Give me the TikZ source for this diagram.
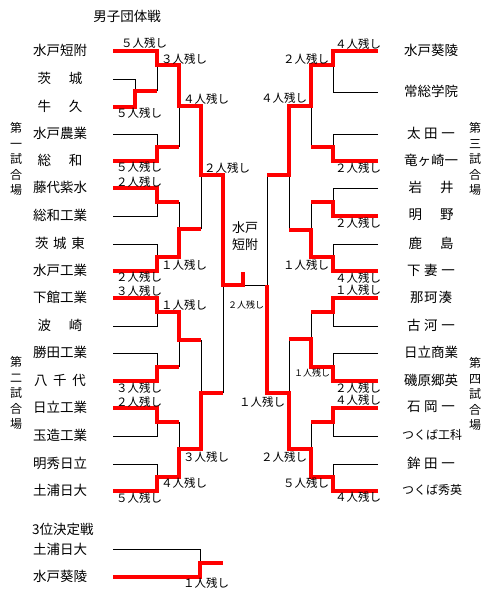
\documentclass[tikz,border=0pt]{standalone}
\usepackage{fontspec}
\setmainfont{Noto Sans CJK JP}
\newcommand{\spreadname}[2]{\makebox[#1][s]{#2}}
\tikzset{
  win/.style={draw=red, line width=3.8pt, line join=miter},
  lose/.style={draw=black, line width=0.9pt},
  team/.style={font=\fontsize{13.5}{14}\selectfont, inner sep=0pt},
  score/.style={font=\fontsize{11.5}{12}\selectfont, inner sep=0pt},
  smallscore/.style={font=\fontsize{9}{10}\selectfont, inner sep=0pt},
  venue/.style={font=\fontsize{12}{15.5}\selectfont, align=center, inner sep=0pt},
}
\begin{document}
\begin{tikzpicture}[x=1pt,y=-1pt]
\useasboundingbox (0,0) rectangle (500,605);
\fill[white] (0,0) rectangle (500,605);

% title
\node[team] (title) at (127,16) {男子団体戦};

% left teams
\node[team] (L1) at (60,50) {水戸短附};
\node[team] (L2) at (60,78) {\spreadname{45pt}{茨\hfil 城}};
\node[team] (L3) at (60,106) {\spreadname{45pt}{牛\hfil 久}};
\node[team] (L4) at (60,133) {水戸農業};
\node[team] (L5) at (60,160) {\spreadname{45pt}{総\hfil 和}};
\node[team] (L6) at (60,187) {藤代紫水};
\node[team] (L7) at (60,215) {総和工業};
\node[team] (L8) at (60,243) {\spreadname{50pt}{茨\hfil 城\hfil 東}};
\node[team] (L9) at (60,270) {水戸工業};
\node[team] (L10) at (60,297) {下館工業};
\node[team] (L11) at (60,325) {\spreadname{45pt}{波\hfil 崎}};
\node[team] (L12) at (60,352) {勝田工業};
\node[team] (L13) at (60,380) {\spreadname{52pt}{八\hfil 千\hfil 代}};
\node[team] (L14) at (60,407) {日立工業};
\node[team] (L15) at (60,435) {玉造工業};
\node[team] (L16) at (60,463) {明秀日立};
\node[team] (L17) at (60,490) {土浦日大};

% right teams
\node[team] (R1) at (431,50) {水戸葵陵};
\node[team] (R2) at (431,91) {常総学院};
\node[team] (R3) at (431,133) {\spreadname{48pt}{太\hfil 田\hfil 一}};
\node[team] (R4) at (431,160) {竜ヶ崎一};
\node[team] (R5) at (431,187) {\spreadname{45pt}{岩\hfil 井}};
\node[team] (R6) at (431,215) {\spreadname{45pt}{明\hfil 野}};
\node[team] (R7) at (431,243) {\spreadname{45pt}{鹿\hfil 島}};
\node[team] (R8) at (431,270) {\spreadname{48pt}{下\hfil 妻\hfil 一}};
\node[team] (R9) at (431,297) {\spreadname{42pt}{那\hfil 珂\hfil 湊}};
\node[team] (R10) at (431,325) {\spreadname{48pt}{古\hfil 河\hfil 一}};
\node[team] (R11) at (431,352) {日立商業};
\node[team] (R12) at (431,380) {磯原郷英};
\node[team] (R13) at (431,407) {\spreadname{48pt}{石\hfil 岡\hfil 一}};
\node[team, font=\fontsize{12}{13}\selectfont] (R14) at (432,435) {つくば工科};
\node[team] (R15) at (431,463) {\spreadname{48pt}{鉾\hfil 田\hfil 一}};
\node[team, font=\fontsize{12}{13}\selectfont] (R16) at (432,490) {つくば秀英};

% venues
\node[venue] (v1) at (16,159) {第\\一\\試\\合\\場};
\node[venue] (v2) at (16,393) {第\\二\\試\\合\\場};
\node[venue] (v3) at (475,159) {第\\三\\試\\合\\場};
\node[venue] (v4) at (475,394) {第\\四\\試\\合\\場};

% champion
\node[font=\fontsize{13}{17}\selectfont, align=center, inner sep=0pt] (champ) at (245,236) {水戸\\短附};

% ---- losing (black) lines
\draw[lose] (113,79)--(135,79)--(135,91);
\draw[lose] (157,91)--(157,65);
\draw[lose] (113,134)--(157,134)--(157,147);
\draw[lose] (179,147)--(179,106);
\draw[lose] (113,216)--(157,216)--(157,202);
\draw[lose] (179,202)--(179,229);
\draw[lose] (113,244)--(157,244)--(157,257);
\draw[lose] (201,229)--(201,175);
\draw[lose] (113,326)--(157,326)--(157,312);
\draw[lose] (201,340)--(201,393);
\draw[lose] (113,353)--(157,353)--(157,367);
\draw[lose] (179,367)--(179,340);
\draw[lose] (113,436)--(157,436)--(157,422);
\draw[lose] (179,422)--(179,449);
\draw[lose] (113,464)--(157,464)--(157,477);
\draw[lose] (223,393)--(223,285);
\draw[lose] (243,285)--(267,285);
\draw[lose] (378,92)--(333,92)--(333,65);
\draw[lose] (378,134)--(333,134)--(333,147);
\draw[lose] (311,147)--(311,106);
\draw[lose] (378,188)--(333,188)--(333,202);
\draw[lose] (311,202)--(311,230);
\draw[lose] (378,244)--(333,244)--(333,257);
\draw[lose] (289,230)--(289,175);
\draw[lose] (267,175)--(267,285);
\draw[lose] (311,312)--(311,339);
\draw[lose] (378,326)--(333,326)--(333,312);
\draw[lose] (378,353)--(333,353)--(333,367);
\draw[lose] (289,339)--(289,393);
\draw[lose] (311,422)--(311,449);
\draw[lose] (378,436)--(333,436)--(333,422);
\draw[lose] (378,464)--(333,464)--(333,477);

% ---- winning (red) lines
\draw[win] (113,107)--(135,107)--(135,91)--(157,91);
\draw[win] (113,51)--(157,51)--(157,65)--(179,65)--(179,106)--(201,106)--(201,175)--(223,175)--(223,285)--(243,285)--(243,272);
\draw[win] (113,161)--(157,161)--(157,147)--(179,147);
\draw[win] (113,188)--(157,188)--(157,202)--(179,202);
\draw[win] (113,271)--(157,271)--(157,257)--(179,257)--(179,229)--(201,229);
\draw[win] (113,298)--(157,298)--(157,312)--(179,312)--(179,340)--(201,340);
\draw[win] (113,381)--(157,381)--(157,367)--(179,367);
\draw[win] (113,408)--(157,408)--(157,422)--(179,422);
\draw[win] (113,491)--(157,491)--(157,477)--(179,477)--(179,449)--(201,449)--(201,393)--(223,393);
\draw[win] (378,51)--(333,51)--(333,65)--(311,65)--(311,106)--(289,106)--(289,175)--(267,175);
\draw[win] (378,161)--(333,161)--(333,147)--(311,147);
\draw[win] (378,216)--(333,216)--(333,202)--(311,202);
\draw[win] (378,271)--(333,271)--(333,257)--(311,257)--(311,230)--(289,230);
\draw[win] (378,298)--(333,298)--(333,312)--(311,312);
\draw[win] (378,381)--(333,381)--(333,367)--(311,367)--(311,339)--(289,339);
\draw[win] (378,408)--(333,408)--(333,422)--(311,422);
\draw[win] (378,491)--(333,491)--(333,477)--(311,477)--(311,449)--(289,449)--(289,393)--(267,393)--(267,285);

% ---- left scores
\node[score] (s1) at (144,43) {５人残し};
\node[score] (s2) at (184,59) {３人残し};
\node[score] (s3) at (139,113) {５人残し};
\node[score] (s4) at (206,99) {４人残し};
\node[score] (s5) at (227,168) {２人残し};
\node[score] (s6) at (139,167) {５人残し};
\node[score] (s7) at (139,182) {２人残し};
\node[score] (s8) at (184,265) {１人残し};
\node[score] (s9) at (139,277) {２人残し};
\node[score] (s10) at (139,291) {３人残し};
\node[score] (s11) at (184,305) {１人残し};
\node[score] (s12) at (139,388) {３人残し};
\node[score] (s13) at (139,402) {２人残し};
\node[score] (s14) at (206,457) {３人残し};
\node[score] (s15) at (184,483) {４人残し};
\node[score] (s16) at (139,498) {５人残し};
\node[smallscore] (sf) at (246,305) {２人残し};

% ---- right scores
\node[score] (r2) at (306,59) {２人残し};
\node[score] (r3) at (284,98) {４人残し};
\node[score] (r6) at (306,265) {１人残し};
\node[smallscore] (r9) at (312,373) {１人残し};
\node[score] (r12) at (262,402) {１人残し};
\node[score] (r13) at (284,457) {２人残し};
\node[score] (r14) at (306,483) {５人残し};
\begin{scope}
\clip (300,0) rectangle (380,605);
\node[score, anchor=west] (r1) at (335,44) {４人残し};
\node[score, anchor=west] (r4) at (335,168) {２人残し};
\node[score, anchor=west] (r5) at (335,223) {２人残し};
\node[score, anchor=west] (r7) at (335,278) {４人残し};
\node[score, anchor=west] (r8) at (335,290) {１人残し};
\node[score, anchor=west] (r10) at (335,388) {２人残し};
\node[score, anchor=west] (r11) at (335,400) {４人残し};
\node[score, anchor=west] (r15) at (335,497) {４人残し};
\end{scope}

% ---- third place
\node[team, anchor=west] (third) at (32,529) {3位決定戦};
\node[team] (T1) at (60,549) {土浦日大};
\node[team] (T2) at (60,576) {水戸葵陵};
\draw[lose] (113,549)--(200,549)--(200,563);
\draw[win] (113,577)--(200,577)--(200,563)--(223,563);
\node[score] (t3) at (206,583) {１人残し};
\end{tikzpicture}
\end{document}
